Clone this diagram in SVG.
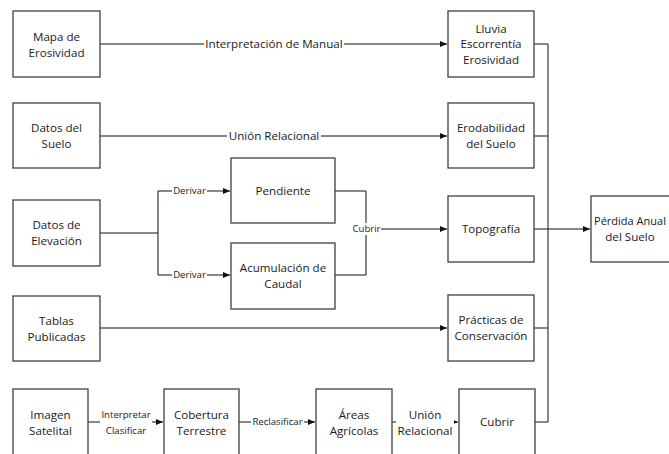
<svg xmlns="http://www.w3.org/2000/svg" width="669" height="454" viewBox="0 0 669 454">
<defs>
<style>
.box{fill:#fff;stroke:#404040;stroke-width:1.3}
.t{font-family:"Open Sans","Noto Sans",sans-serif;font-size:11.6px;fill:#1a1a1a;text-anchor:middle}
.s{font-family:"Open Sans","Noto Sans",sans-serif;font-size:9.6px;fill:#1a1a1a;text-anchor:middle}
.ln{fill:none;stroke:#111;stroke-width:1}
.bg{fill:#fff}
</style>
<marker id="ah" markerWidth="8" markerHeight="8" refX="7" refY="4" orient="auto" markerUnits="userSpaceOnUse">
<path d="M0,1 L7,4 L0,7 Z" fill="#111"/>
</marker>
</defs>
<rect width="669" height="454" fill="#fff"/>

<g id="connectors">
<path class="ln" d="M100,44 H447" marker-end="url(#ah)"/>
<path class="ln" d="M100,136 H447" marker-end="url(#ah)"/>
<path class="ln" d="M100,233 H158 M158,191 V275"/>
<path class="ln" d="M158,191 H230" marker-end="url(#ah)"/>
<path class="ln" d="M158,275 H230" marker-end="url(#ah)"/>
<path class="ln" d="M335,191 H366 V275 H335"/>
<path class="ln" d="M366,229 H447" marker-end="url(#ah)"/>
<path class="ln" d="M100,328 H447" marker-end="url(#ah)"/>
<path class="ln" d="M534,44 H548 V422 H535 M534,136 H548 M534,328 H548"/>
<path class="ln" d="M534,229 H590" marker-end="url(#ah)"/>
<path class="ln" d="M88,422 H163" marker-end="url(#ah)"/>
<path class="ln" d="M239,422 H315" marker-end="url(#ah)"/>
<path class="ln" d="M392,422 H458" marker-end="url(#ah)"/>

<rect class="bg" x="204" y="37" width="140" height="14"/>
<text class="t" x="274" y="44" dy="0.35em">Interpretación de Manual</text>
<rect class="bg" x="227" y="129" width="94" height="14"/>
<text class="t" x="274" y="136" dy="0.35em">Unión Relacional</text>
<rect class="bg" x="172" y="185" width="35" height="12"/>
<text class="s" x="189.5" y="191" dy="0.35em">Derivar</text>
<rect class="bg" x="172" y="269" width="35" height="12"/>
<text class="s" x="189.5" y="275" dy="0.35em">Derivar</text>
<rect class="bg" x="352" y="223" width="29" height="12"/>
<text class="s" x="366.5" y="229" dy="0.35em">Cubrir</text>
<rect class="bg" x="100" y="407" width="52" height="32"/>
<text class="s" x="126" y="415" dy="0.35em">Interpretar</text>
<text class="s" x="126" y="431" dy="0.35em">Clasificar</text>
<rect class="bg" x="251" y="416" width="53" height="12"/>
<text class="s" x="277.5" y="422" dy="0.35em">Reclasificar</text>
<rect class="bg" x="396" y="406" width="58" height="33"/>
<text class="t" x="425" y="415" dy="0.35em">Unión</text>
<text class="t" x="425" y="431" dy="0.35em">Relacional</text>
</g>

<g id="mapa"><rect class="box" x="13" y="11" width="87" height="66"/>
<text class="t" x="56.5" y="37" dy="0.35em">Mapa de</text><text class="t" x="56.5" y="53" dy="0.35em">Erosividad</text></g>
<g id="suelo"><rect class="box" x="13" y="103" width="87" height="65"/>
<text class="t" x="56.5" y="128" dy="0.35em">Datos del</text><text class="t" x="56.5" y="144" dy="0.35em">Suelo</text></g>
<g id="elevacion"><rect class="box" x="13" y="200" width="87" height="66"/>
<text class="t" x="56.5" y="225" dy="0.35em">Datos de</text><text class="t" x="56.5" y="241" dy="0.35em">Elevación</text></g>
<g id="tablas"><rect class="box" x="13" y="296" width="87" height="65"/>
<text class="t" x="56.5" y="321" dy="0.35em">Tablas</text><text class="t" x="56.5" y="337" dy="0.35em">Publicadas</text></g>
<g id="imagen"><rect class="box" x="13" y="389" width="75" height="70"/>
<text class="t" x="50.5" y="415" dy="0.35em">Imagen</text><text class="t" x="50.5" y="431" dy="0.35em">Satelital</text></g>
<g id="pendiente"><rect class="box" x="231" y="158" width="104" height="65"/>
<text class="t" x="283" y="191" dy="0.35em">Pendiente</text></g>
<g id="acumulacion"><rect class="box" x="231" y="243" width="104" height="66"/>
<text class="t" x="283" y="268" dy="0.35em">Acumulación de</text><text class="t" x="283" y="284" dy="0.35em">Caudal</text></g>
<g id="cobertura"><rect class="box" x="164" y="389" width="75" height="70"/>
<text class="t" x="201.5" y="415" dy="0.35em">Cobertura</text><text class="t" x="201.5" y="431" dy="0.35em">Terrestre</text></g>
<g id="areas"><rect class="box" x="316" y="389" width="76" height="70"/>
<text class="t" x="354" y="415" dy="0.35em">Áreas</text><text class="t" x="354" y="431" dy="0.35em">Agrícolas</text></g>
<g id="cubrir"><rect class="box" x="459" y="389" width="76" height="70"/>
<text class="t" x="497" y="422" dy="0.35em">Cubrir</text></g>
<g id="lluvia"><rect class="box" x="448" y="11" width="86" height="66"/>
<text class="t" x="491" y="28.5" dy="0.35em">Lluvia</text><text class="t" x="491" y="44" dy="0.35em">Escorrentía</text><text class="t" x="491" y="59.5" dy="0.35em">Erosividad</text></g>
<g id="erodabilidad"><rect class="box" x="448" y="103" width="86" height="65"/>
<text class="t" x="491" y="128" dy="0.35em">Erodabilidad</text><text class="t" x="491" y="144" dy="0.35em">del Suelo</text></g>
<g id="topografia"><rect class="box" x="448" y="196" width="86" height="66"/>
<text class="t" x="491" y="229" dy="0.35em">Topografía</text></g>
<g id="practicas"><rect class="box" x="448" y="295" width="86" height="66"/>
<text class="t" x="491" y="320" dy="0.35em">Prácticas de</text><text class="t" x="491" y="336" dy="0.35em">Conservación</text></g>
<g id="perdida"><rect class="box" x="591" y="196" width="85" height="66"/>
<text class="t" x="630" y="221" dy="0.35em" style="font-size:11px">Pérdida Anual</text><text class="t" x="630" y="237" dy="0.35em">del Suelo</text></g>
</svg>
